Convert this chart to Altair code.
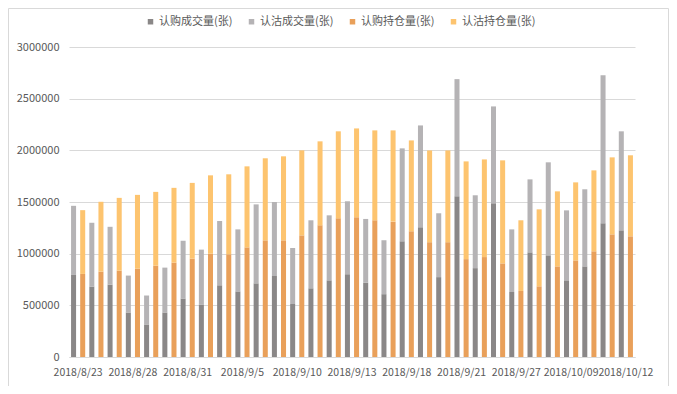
import altair as alt
import pandas as pd

dates = ["2018/8/23", "2018/8/24", "2018/8/27", "2018/8/28", "2018/8/29", "2018/8/30",
         "2018/8/31", "2018/9/3", "2018/9/4", "2018/9/5", "2018/9/6", "2018/9/7",
         "2018/9/10", "2018/9/11", "2018/9/12", "2018/9/13", "2018/9/14", "2018/9/17",
         "2018/9/18", "2018/9/19", "2018/9/20", "2018/9/21", "2018/9/25", "2018/9/26",
         "2018/9/27", "2018/9/28", "2018/10/08", "2018/10/09", "2018/10/10", "2018/10/11",
         "2018/10/12"]

tick_labels = ["2018/8/23", "2018/8/28", "2018/8/31", "2018/9/5", "2018/9/10", "2018/9/13",
               "2018/9/18", "2018/9/21", "2018/9/27", "2018/10/09", "2018/10/12"]

# 认购成交量(张)
call_volume = [794000, 682000, 701000, 431000, 315000, 431000, 566000, 508000, 694000, 635000,
               713000, 784000, 513000, 665000, 742000, 801000, 718000, 608000, 1120000, 1256000,
               773000, 1556000, 860000, 1487000, 629000, 1013000, 984000, 742000, 877000, 1294000,
               1226000]
# 认沽成交量(张)
put_volume = [669000, 617000, 559000, 357000, 280000, 434000, 559000, 531000, 622000, 600000,
              764000, 716000, 542000, 658000, 629000, 706000, 618000, 522000, 899000, 985000,
              618000, 1133000, 705000, 938000, 606000, 706000, 900000, 677000, 746000, 1432000,
              958000]
# 认购持仓量(张)
call_oi = [804000, 826000, 836000, 855000, 884000, 913000, 952000, 1000000, 994000, 1061000,
           1129000, 1129000, 1177000, 1274000, 1342000, 1352000, 1323000, 1310000, 1217000, 1111000,
           1111000, 947000, 967000, 906000, 639000, 684000, 877000, 935000, 1023000, 1187000,
           1168000]
# 认沽持仓量(张)
put_oi = [617000, 676000, 704000, 714000, 714000, 724000, 733000, 758000, 774000, 784000,
          794000, 813000, 823000, 813000, 842000, 860000, 870000, 883000, 879000, 888000,
          888000, 946000, 945000, 997000, 684000, 745000, 726000, 755000, 783000, 745000,
          784000]

series_names = ["认购成交量(张)", "认沽成交量(张)", "认购持仓量(张)", "认沽持仓量(张)"]
series_groups = ["a", "a", "b", "b"]
series_order = [0, 1, 0, 1]
series_colors = ["#8a8787", "#b5b3b5", "#e9a05a", "#fdc46f"]
series_values = [call_volume, put_volume, call_oi, put_oi]

rows = []
for name, grp, ordv, vals in zip(series_names, series_groups, series_order, series_values):
    for d, v in zip(dates, vals):
        rows.append({"date": d, "series": name, "grp": grp, "ord": ordv, "value": v})
df = pd.DataFrame(rows)

font = "Noto Sans CJK SC"

bars = alt.Chart(df).mark_bar().encode(
    x=alt.X("date:N", sort=dates,
            scale=alt.Scale(paddingInner=0, paddingOuter=0),
            axis=alt.Axis(values=tick_labels, labelAngle=0, ticks=False, grid=False,
                          domainColor="#d9d9d9", labelColor="#595959", labelFontSize=10.5,
                          labelPadding=10, labelOverlap=False, title=None)),
    xOffset=alt.XOffset("grp:N", sort=["a", "b"],
                        scale=alt.Scale(paddingInner=0.45, paddingOuter=0.225)),
    y=alt.Y("value:Q", stack="zero",
            scale=alt.Scale(domain=[0, 3000000], nice=False),
            axis=alt.Axis(values=[0, 500000, 1000000, 1500000, 2000000, 2500000, 3000000],
                          format="d", ticks=False, domain=False, gridColor="#d9d9d9",
                          labelColor="#595959", labelFontSize=11, labelPadding=10, title=None)),
    color=alt.Color("series:N",
                    scale=alt.Scale(domain=series_names, range=series_colors),
                    legend=alt.Legend(orient="none", legendX=76, legendY=-31,
                                      direction="horizontal", title=None,
                                      symbolType="square", symbolSize=30,
                                      symbolStrokeWidth=0, labelFontSize=11,
                                      labelColor="#595959", labelOffset=3,
                                      columnPadding=13, padding=0)),
    order=alt.Order("ord:Q", sort="ascending"),
)

frame = alt.Chart(pd.DataFrame({"k": [0]})).mark_rect(
    fill="transparent", stroke="#d9d9d9", strokeWidth=1
).encode(
    x=alt.value(-60.5), x2=alt.value(599.5), y=alt.value(-38.5), y2=alt.value(339.5)
)

chart = alt.layer(frame, bars).properties(
    width=566, height=310,
    autosize=alt.AutoSizeParams(type="none"),
    padding={"left": 61, "top": 39, "right": 34, "bottom": 29},
).configure(font=font).configure_view(stroke=None)

chart.save("out.html", embed_options={"renderer": "svg", "actions": False})
